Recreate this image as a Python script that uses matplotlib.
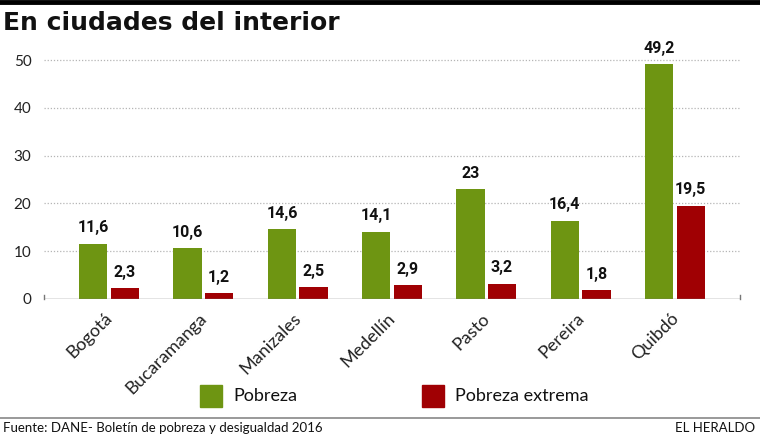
import matplotlib
matplotlib.use("Agg")
import matplotlib.pyplot as plt
import numpy as np
from matplotlib.lines import Line2D
from matplotlib.patches import Rectangle

cities = ["Bogotá", "Bucaramanga", "Manizales", "Medellín", "Pasto", "Pereira", "Quibdó"]
pobreza = [11.6, 10.6, 14.6, 14.1, 23, 16.4, 49.2]
pobreza_extrema = [2.3, 1.2, 2.5, 2.9, 3.2, 1.8, 19.5]
pobreza_lbl = ["11,6", "10,6", "14,6", "14,1", "23", "16,4", "49,2"]
extrema_lbl = ["2,3", "1,2", "2,5", "2,9", "3,2", "1,8", "19,5"]
yticks = [0, 10, 20, 30, 40, 50]

GREEN = "#6e9512"
RED = "#a00003"
W, H = 760, 436
fig = plt.figure(figsize=(W / 100, H / 100), dpi=100)

LIGHT = ["Lato", "DejaVu Sans"]
COND = ["Roboto", "DejaVu Sans"]

ax = fig.add_axes([44 / W, (H - 299) / H, (740 - 44) / W, (299 - 50) / H])
x = np.arange(len(cities))
bw = 0.30
off = 0.167
ax.bar(x - off, pobreza, bw, color=GREEN, zorder=3)
ax.bar(x + off, pobreza_extrema, bw, color=RED, zorder=3)
for xi, v, l in zip(x, pobreza, pobreza_lbl):
    ax.annotate(l, (xi - off, v), xytext=(0, 6), textcoords="offset points",
                ha="center", va="bottom", fontsize=11.5, fontweight="bold",
                family=COND, color="#111111")
for xi, v, l in zip(x, pobreza_extrema, extrema_lbl):
    ax.annotate(l, (xi + off, v), xytext=(0, 6), textcoords="offset points",
                ha="center", va="bottom", fontsize=11.5, fontweight="bold",
                family=COND, color="#111111")

ax.set_xlim(-0.69, 6.69)
ax.set_ylim(0, 52.1)
for s in ax.spines.values():
    s.set_visible(False)
for yv in yticks[1:]:
    ax.axhline(yv, color="#b5b5b5", lw=0.9, ls=(0, (1, 1.5)), zorder=1)
ax.axhline(0, color="#777777", lw=1.0, zorder=4)
ax.plot([-0.69, -0.69], [0, 0.8], color="#777777", lw=1.0, clip_on=False)
ax.plot([6.69, 6.69], [0, 0.8], color="#777777", lw=1.0, clip_on=False)

ax.set_yticks(yticks)
ax.set_yticklabels([str(v) for v in yticks], family=LIGHT, fontsize=11, color="#222222")
ax.tick_params(axis="y", length=0, pad=9)
ax.set_xticks(x - 0.05)
ax.set_xticklabels(cities, rotation=45, ha="right", rotation_mode="anchor",
                   family=LIGHT, fontsize=13, color="#222222")
ax.tick_params(axis="x", length=0, pad=8)

# top bar and title
fig.add_artist(Line2D([0, 1], [1 - 2.5 / H, 1 - 2.5 / H], color="black", lw=3.5))
fig.text(3 / W, 1 - 23 / H, "En ciudades del interior", fontsize=18, fontweight="bold",
         family=["DejaVu Sans"], va="center", ha="left", color="#111111")

# legend
fig.add_artist(Rectangle((200 / W, (H - 407) / H), 22 / W, 22 / H, color=GREEN))
fig.text(233 / W, (H - 396) / H, "Pobreza", fontsize=13, family=LIGHT, va="center", ha="left", color="#111111")
fig.add_artist(Rectangle((422 / W, (H - 407) / H), 22 / W, 22 / H, color=RED))
fig.text(455 / W, (H - 396) / H, "Pobreza extrema", fontsize=13, family=LIGHT, va="center", ha="left", color="#111111")

# footer
fig.add_artist(Line2D([0, 1], [(H - 418) / H, (H - 418) / H], color="#888888", lw=1.2))
fig.text(3 / W, (H - 428) / H, "Fuente: DANE- Boletín de pobreza y desigualdad 2016", fontsize=9.5,
         family=LIGHT, va="center", ha="left", color="#111111")
fig.text(755 / W, (H - 428) / H, "EL HERALDO", fontsize=9.5, family=LIGHT, va="center", ha="right", color="#111111")

fig.savefig("out.png", dpi=100)
